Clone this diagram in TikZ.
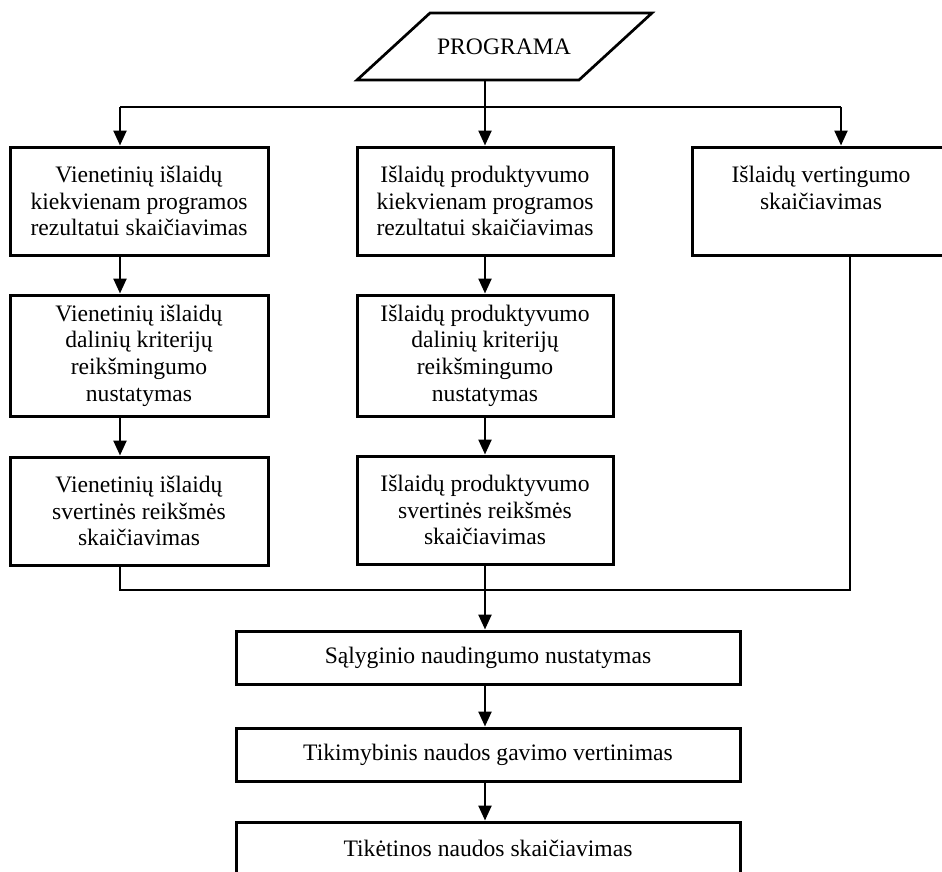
\documentclass[tikz,border=0pt]{standalone}
\usepackage{fontspec}
\setmainfont{Liberation Serif}
\usetikzlibrary{arrows.meta}

\tikzset{
  box/.style={draw, line width=3pt, rectangle, inner sep=0pt, align=center,
              font=\fontsize{23.6}{26.7}\selectfont},
  conn/.style={line width=2.4pt},
  arr/.style={conn, -{Triangle[width=13pt,length=15pt]}}
}

\begin{document}
\begin{tikzpicture}[x=1pt,y=-1pt]
  \useasboundingbox (0,0) rectangle (942,871);
  \clip (0,0) rectangle (942,871);

  % input parallelogram
  \draw[line width=2.7pt, line join=miter] (357,80) -- (579,80) -- (652,13) -- (430,13) -- cycle;
  \node[font=\fontsize{23.6}{26.7}\selectfont] (prog) at (504,47) {PROGRAMA};
  \coordinate (progout) at (485,80);

  % left column
  \node[box, minimum width=258pt, minimum height=108pt] (b1) at (139,201)
    {Vienetinių išlaidų\\ kiekvienam programos\\ rezultatui skaičiavimas};
  \node[box, minimum width=258pt, minimum height=121pt] (b2) at (139,355.5)
    {Vienetinių išlaidų\\ dalinių kriterijų\\ reikšmingumo\\ nustatymas};
  \node[box, minimum width=258pt, minimum height=108pt] (b3) at (139,511)
    {Vienetinių išlaidų\\ svertinės reikšmės\\ skaičiavimas};

  % middle column
  \node[box, minimum width=256pt, minimum height=108pt] (c1) at (485,201)
    {Išlaidų produktyvumo\\ kiekvienam programos\\ rezultatui skaičiavimas};
  \node[box, minimum width=256pt, minimum height=121pt] (c2) at (485,355.5)
    {Išlaidų produktyvumo\\ dalinių kriterijų\\ reikšmingumo\\ nustatymas};
  \node[box, minimum width=256pt, minimum height=108pt] (c3) at (485,510)
    {Išlaidų produktyvumo\\ svertinės reikšmės\\ skaičiavimas};

  % right column
  \node[box, minimum width=258pt, minimum height=108pt] (r1) at (821,201)
    {Išlaidų vertingumo\\ skaičiavimas\\ ~};

  % lower chain
  \node[box, minimum width=504pt, minimum height=53pt] (d1) at (488,657.5)
    {Sąlyginio naudingumo nustatymas};
  \node[box, minimum width=504pt, minimum height=53pt] (d2) at (488,754.5)
    {Tikimybinis naudos gavimo vertinimas};
  \node[box, minimum width=504pt, minimum height=53pt] (d3) at (488,848.5)
    {Tikėtinos naudos skaičiavimas};

  % distribution bus
  \coordinate (bl) at (120,107);
  \coordinate (br) at (841,107);
  \draw[arr] (progout) -- (c1.north);
  \draw[conn] (bl) -- (br);
  \draw[arr] (bl) -- (bl |- b1.north);
  \draw[arr] (br) -- (br |- r1.north);

  % column flows
  \draw[arr] (b1.south -| bl) -- (b2.north -| bl);
  \draw[arr] (b2.south -| bl) -- (b3.north -| bl);
  \draw[arr] (c1) -- (c2);
  \draw[arr] (c2.south) -- (c3.north);

  % collecting bus
  \coordinate (jl) at (120,590);
  \coordinate (jr) at (850,590);
  \draw[conn] (b3.south -| jl) -- (jl) -- (jr) -- (r1.south -| jr);
  \draw[arr] (c3.south) -- (c3.south |- d1.north);
  \draw[arr] (c3.south |- d1.south) -- (c3.south |- d2.north);
  \draw[arr] (c3.south |- d2.south) -- (c3.south |- d3.north);
\end{tikzpicture}
\end{document}
